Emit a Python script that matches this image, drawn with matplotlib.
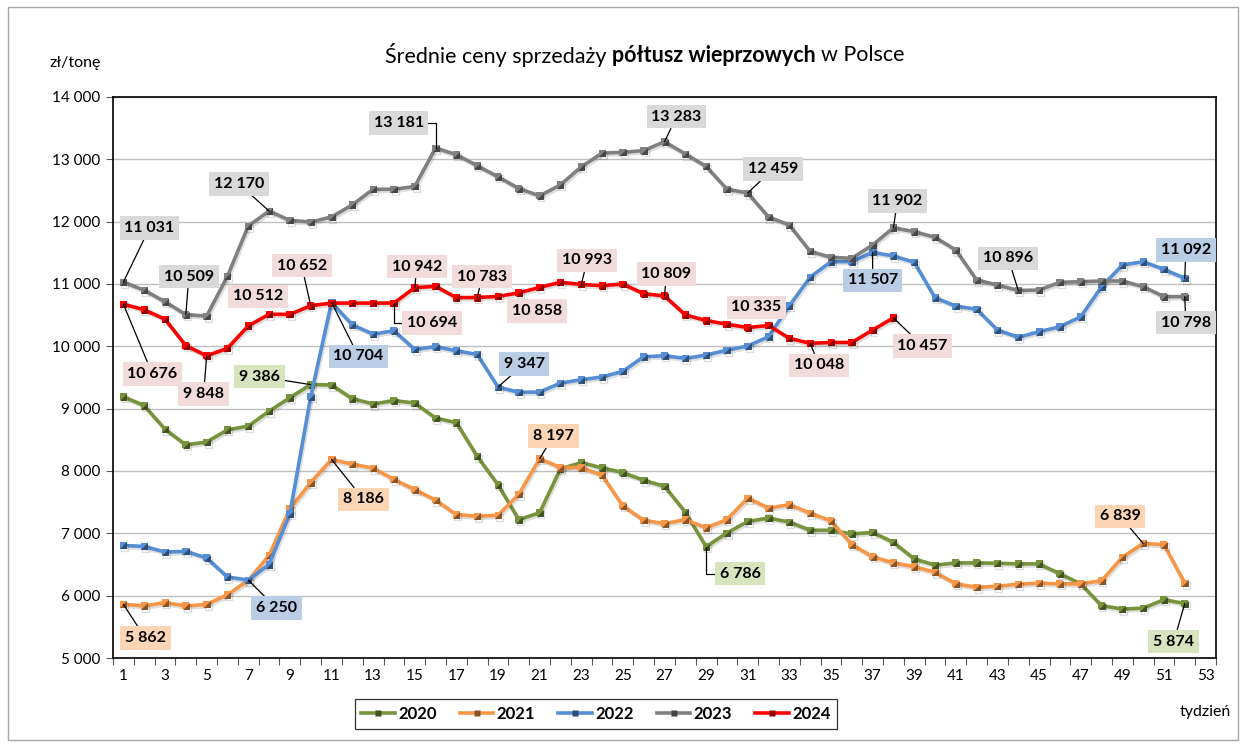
import matplotlib
matplotlib.use('Agg')
import matplotlib.pyplot as plt
import matplotlib.patheffects as pe
from matplotlib.colors import to_rgb
from matplotlib.patches import Rectangle
from matplotlib.lines import Line2D

weeks = list(range(1, 53))

y2020 = [9190, 9050, 8670, 8420, 8465, 8660, 8720, 8960, 9175, 9386,
         9380, 9160, 9075, 9130, 9090, 8850, 8775, 8235, 7780, 7220,
         7330, 8035, 8135, 8050, 7975, 7850, 7755, 7340, 6786, 7005,
         7190, 7245, 7180, 7050, 7050, 6990, 7015, 6855, 6590, 6490,
         6525, 6525, 6520, 6510, 6510, 6350, 6190, 5840, 5785, 5800,
         5935, 5874]
y2021 = [5862, 5835, 5888, 5835, 5860, 6015, 6245, 6645, 7395, 7815,
         8186, 8110, 8045, 7865, 7700, 7535, 7300, 7275, 7290, 7625,
         8197, 8055, 8055, 7930, 7440, 7210, 7155, 7220, 7090, 7220,
         7565, 7405, 7460, 7325, 7200, 6820, 6625, 6525, 6465, 6375,
         6190, 6135, 6150, 6185, 6200, 6190, 6190, 6240, 6615, 6839,
         6818, 6200]
y2022 = [6805, 6790, 6700, 6710, 6605, 6300, 6250, 6500, 7315, 9190,
         10704, 10345, 10195, 10250, 9950, 9995, 9928, 9870, 9347, 9262,
         9267, 9410, 9465, 9508, 9600, 9833, 9849, 9806, 9860, 9940,
         10005, 10155, 10650, 11110, 11358, 11358, 11507, 11450, 11348, 10780,
         10645, 10595, 10262, 10145, 10235, 10315, 10475, 10955, 11305, 11358,
         11235, 11092]
y2023 = [11031, 10900, 10715, 10509, 10485, 11125, 11930, 12170, 12020, 11995,
         12075, 12270, 12520, 12520, 12565, 13181, 13075, 12898, 12720, 12532,
         12414, 12590, 12880, 13100, 13113, 13140, 13283, 13086, 12887, 12522,
         12459, 12075, 11946, 11523, 11428, 11412, 11626, 11902, 11840, 11749,
         11545, 11064, 10984, 10896, 10904, 11027, 11037, 11048, 11048, 10957,
         10797, 10798]
y2024 = [10676, 10586, 10435, 10011, 9848, 9968, 10328, 10515, 10512, 10652,
         10694, 10694, 10694, 10694, 10942, 10962, 10782, 10783, 10801, 10858,
         10946, 11027, 10993, 10973, 11000, 10844, 10809, 10505, 10414, 10355,
         10301, 10335, 10129, 10048, 10062, 10062, 10262, 10457]

years = ['2020', '2021', '2022', '2023', '2024']
series = [y2020, y2021, y2022, y2023, y2024]
colors = ['#77933C', '#F79646', '#558ED5', '#808080', '#FF0000']
box_colors = ['#D7E4BD', '#FCD5B5', '#B9CDE5', '#D9D9D9', '#F2DCDB']

# labelled points: (series index, week, dx px, dy px, leader)
labels = [
    (3, 1, 26, 54, 'line'), (3, 4, 3, 38, 'line'), (3, 8, -30, 27, 'line'),
    (3, 16, -37, 25, 'elbow'), (3, 27, 12, 25, 'line'), (3, 31, 25, 24, 'line'),
    (3, 38, 4, 27, 'line'), (3, 44, -10, 32, 'line'), (3, 52, 1, -26, 'line'),
    (4, 1, 29, -70, 'line'), (4, 5, -3, -38, 'line'), (4, 9, -32, 18, None),
    (4, 10, -9, 40, 'line'), (4, 14, 38, -20, 'elbow'), (4, 15, 2, 21, 'line'),
    (4, 18, 5, 21, 'line'), (4, 20, 18, -18, None), (4, 23, 6, 24, 'line'),
    (4, 27, 2, 22, 'line'), (4, 32, -12, 18, None), (4, 34, 9, -22, 'line'),
    (4, 38, 29, -28, 'line'),
    (2, 11, 27, -54, 'line'), (2, 19, 26, 23, 'line'), (2, 7, 28, -28, 'line'),
    (2, 37, 0, -28, 'line'), (2, 52, 1, 28, 'line'),
    (0, 10, -51, 8, 'line'), (0, 29, 34, -27, 'elbow'), (0, 52, -11, -38, 'line'),
    (1, 1, 22, -34, 'line'), (1, 11, 32, -40, 'line'), (1, 21, 14, 23, 'line'),
    (1, 50, -23, 27, 'line'),
]

font = 'Lato'
plt.rcParams['font.family'] = [font, 'DejaVu Sans']


def fmt(v):
    return f'{v:,}'.replace(',', ' ')


def darker(c, f=0.55):
    r, g, b = to_rgb(c)
    return (r * f, g * f, b * f)


tri = [(-1, -1), (1, -1), (1, 1), (-1, -1)]

fig = plt.figure(figsize=(12.46, 7.45), dpi=100)
ax = fig.add_axes([113 / 1246, 1 - 658 / 745, (1216 - 113) / 1246, (658 - 97) / 745])

for i, (yr, vals) in enumerate(zip(years, series)):
    x = weeks[:len(vals)]
    ax.plot(x, vals, color=colors[i], lw=2.6, solid_joinstyle='round',
            marker='s', ms=5, mfc=colors[i], mec='none', zorder=3 + i,
            path_effects=[pe.SimpleLineShadow(offset=(1, -1.5), alpha=0.13),
                          pe.Normal()])
    ax.plot(x, vals, ls='none', marker=tri, ms=5, mfc=darker(colors[i]),
            mec='none', zorder=3 + i)

for si, w, dx, dy, lead in labels:
    v = series[si][w - 1]
    ap = None
    if lead == 'line':
        ap = dict(arrowstyle='-', color='black', lw=0.9, shrinkA=0, shrinkB=0)
    elif lead == 'elbow':
        ap = dict(arrowstyle='-', color='black', lw=0.9, shrinkA=0, shrinkB=0,
                  connectionstyle='angle,angleA=0,angleB=90,rad=0')
    ax.annotate(fmt(v), xy=(w, v), xytext=(dx, dy), textcoords='offset pixels',
                ha='center', va='center', fontsize=11.5, fontweight='bold',
                bbox=dict(boxstyle='square,pad=0.3', fc=box_colors[si], ec='none'),
                arrowprops=ap, zorder=10)

ax.set_xlim(0.5, 53.5)
ax.set_ylim(5000, 14000)
ax.set_yticks(range(5000, 14001, 1000))
ax.set_yticklabels([fmt(v) for v in range(5000, 14001, 1000)], fontsize=11)
ax.set_xticks(range(1, 54, 2))
ax.set_xticklabels([str(v) for v in range(1, 54, 2)], fontsize=11)
ax.set_xticks([v + 0.5 for v in range(0, 54)], minor=True)
ax.tick_params(axis='x', which='major', length=0, pad=8)
ax.tick_params(axis='x', which='minor', length=5, width=0.8, color='#555555')
ax.tick_params(axis='y', length=5, width=0.8, color='#555555', pad=4)
ax.grid(axis='y', color='#BFBFBF', lw=1)
ax.set_axisbelow(True)
for s in ax.spines.values():
    s.set_color('black')
    s.set_linewidth(1.2)

# title with bold part
r = fig.canvas.get_renderer()
parts = [('Średnie ceny sprzedaży', 'normal'), ('półtusz wieprzowych', 'bold'),
         ('w Polsce', 'normal')]
tsize = 15.5
texts = [fig.text(0, 1 - 55 / 745, p, fontsize=tsize, fontweight=w, va='center')
         for p, w in parts]
sp = fig.text(0, 0, 'a a', fontsize=tsize)
sp2 = fig.text(0, 0, 'aa', fontsize=tsize)
gap = sp.get_window_extent(r).width - sp2.get_window_extent(r).width
sp.remove()
sp2.remove()
widths = [t.get_window_extent(r).width for t in texts]
total = sum(widths) + gap * (len(widths) - 1)
xpos = 645 - total / 2
for t, wd in zip(texts, widths):
    t.set_x(xpos / 1246)
    xpos += wd + gap

fig.text(75 / 1246, 1 - 63 / 745, 'zł/tonę', fontsize=11.5, ha='center', va='center')
fig.text(1205 / 1246, 1 - 712 / 745, 'tydzień', fontsize=11.5, ha='center', va='center')

handles = []
for i, yr in enumerate(years):
    handles.append(Line2D([], [], color=colors[i], lw=2.6, marker='s', ms=5,
                          mfc=darker(colors[i]), mec='none'))
leg = fig.legend(handles, years, loc='center', ncol=5,
                 bbox_to_anchor=(596 / 1246, 1 - 714 / 745),
                 prop=dict(family=font, weight='bold', size=12),
                 frameon=True, fancybox=False, edgecolor='black',
                 handlelength=2.0, handletextpad=0.2, columnspacing=1.4,
                 borderpad=0.4)
leg.get_frame().set_linewidth(0.9)

fig.patches.append(Rectangle((8 / 1246, 5 / 745), 1230 / 1246, 733 / 745,
                             transform=fig.transFigure, fill=False,
                             ec='#A6A6A6', lw=1))

fig.savefig('out.png', dpi=100)
